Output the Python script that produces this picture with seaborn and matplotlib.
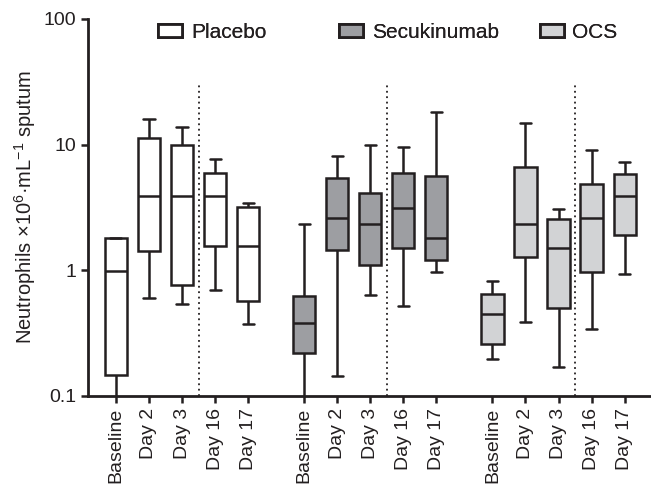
import numpy as np
import pandas as pd
import matplotlib
matplotlib.use("Agg")
import matplotlib.pyplot as plt
import seaborn as sns
from matplotlib.patches import Patch

# groups and time points
groups = ["Placebo", "Secukinumab", "OCS"]
days = ["Baseline", "Day 2", "Day 3", "Day 16", "Day 17"]
colors = ["#ffffff", "#9d9ea2", "#d2d3d5"]

# five-number summary per box: min, q1, median, q3, max
placebo_stats = [
    [0.05, 0.146, 0.99, 1.82, 1.82],
    [0.607, 1.43, 3.9, 11.2, 16.1],
    [0.543, 0.76, 3.9, 10.0, 13.9],
    [0.70, 1.56, 3.9, 5.94, 7.64],
    [0.372, 0.57, 1.56, 3.21, 3.46],
]
secukinumab_stats = [
    [0.05, 0.221, 0.379, 0.625, 2.35],
    [0.144, 1.44, 2.59, 5.4, 8.1],
    [0.636, 1.10, 2.32, 4.15, 9.87],
    [0.52, 1.50, 3.15, 5.98, 9.64],
    [0.97, 1.20, 1.81, 5.63, 18.2],
]
ocs_stats = [
    [0.196, 0.258, 0.447, 0.644, 0.82],
    [0.388, 1.28, 2.32, 6.64, 15.0],
    [0.17, 0.505, 1.50, 2.55, 3.10],
    [0.34, 0.976, 2.59, 4.9, 9.0],
    [0.93, 1.91, 3.9, 5.8, 7.27],
]

# slot offsets of each group on the x axis
group_offset = [0.0, 5.7, 11.4]
edge = "#231f20"

rows = []
for g, off, stats in zip(groups, group_offset, [placebo_stats, secukinumab_stats, ocs_stats]):
    for i, (d, s) in enumerate(zip(days, stats)):
        for v in s:
            rows.append({"group": g, "day": d, "pos": off + i, "value": v})
df = pd.DataFrame(rows)

sns.set_style("ticks")
plt.rcParams["font.family"] = ["Liberation Sans", "DejaVu Sans"]
plt.rcParams["mathtext.fontset"] = "custom"
plt.rcParams["mathtext.rm"] = "Liberation Sans"

fig = plt.figure(figsize=(6.51, 4.87), dpi=100)
ax = fig.add_axes([0.135, 0.187, 0.865, 0.774])

sns.boxplot(data=df, x="pos", y="value", hue="group", hue_order=groups,
            palette=colors, native_scale=True, log_scale=(False, True),
            whis=(0, 100), width=0.67, linecolor=edge, linewidth=1.8,
            saturation=1, legend=False, ax=ax)

# dotted separators between Day 3 and Day 16
for off in group_offset:
    ax.vlines(off + 2.5, 0.1, 31, colors=edge, linestyles=(0, (1, 2)), linewidth=1.3)

ax.set_ylim(0.1, 100)
ax.set_xlim(-0.85, 16.2)
ax.set_yticks([0.1, 1, 10, 100])
ax.set_yticklabels(["0.1", "1", "10", "100"])
ax.minorticks_off()

xpos = [off + i for off in group_offset for i in range(len(days))]
ax.set_xticks(xpos)
ax.set_xticklabels(days * len(groups), rotation=90)
ax.set_xlabel("")
ax.set_ylabel("Neutrophils ×10$^{\\mathregular{6}}$·mL$^{\\mathregular{-1}}$ sputum",
              fontsize=14.5, labelpad=4, color="#231f20")

ax.tick_params(axis="both", labelsize=14, width=1.8, length=5, color=edge, labelcolor="#231f20")
sns.despine(ax=ax)
for sp in ["left", "bottom"]:
    ax.spines[sp].set_linewidth(2)
    ax.spines[sp].set_color(edge)

# legend entries placed individually across the top
legend_x = [0.243, 0.521, 0.829]
for g, c, lx in zip(groups, colors, legend_x):
    h = Patch(facecolor=c, edgecolor=edge, linewidth=2)
    lg = fig.legend([h], [g], loc="center left", bbox_to_anchor=(lx, 0.934),
                    frameon=False, fontsize=15, borderpad=0, borderaxespad=0,
                    handlelength=1.15, handleheight=0.55, handletextpad=0.42,
                    labelcolor="#231f20")
    fig.add_artist(lg)

fig.savefig("out.png", dpi=100)
